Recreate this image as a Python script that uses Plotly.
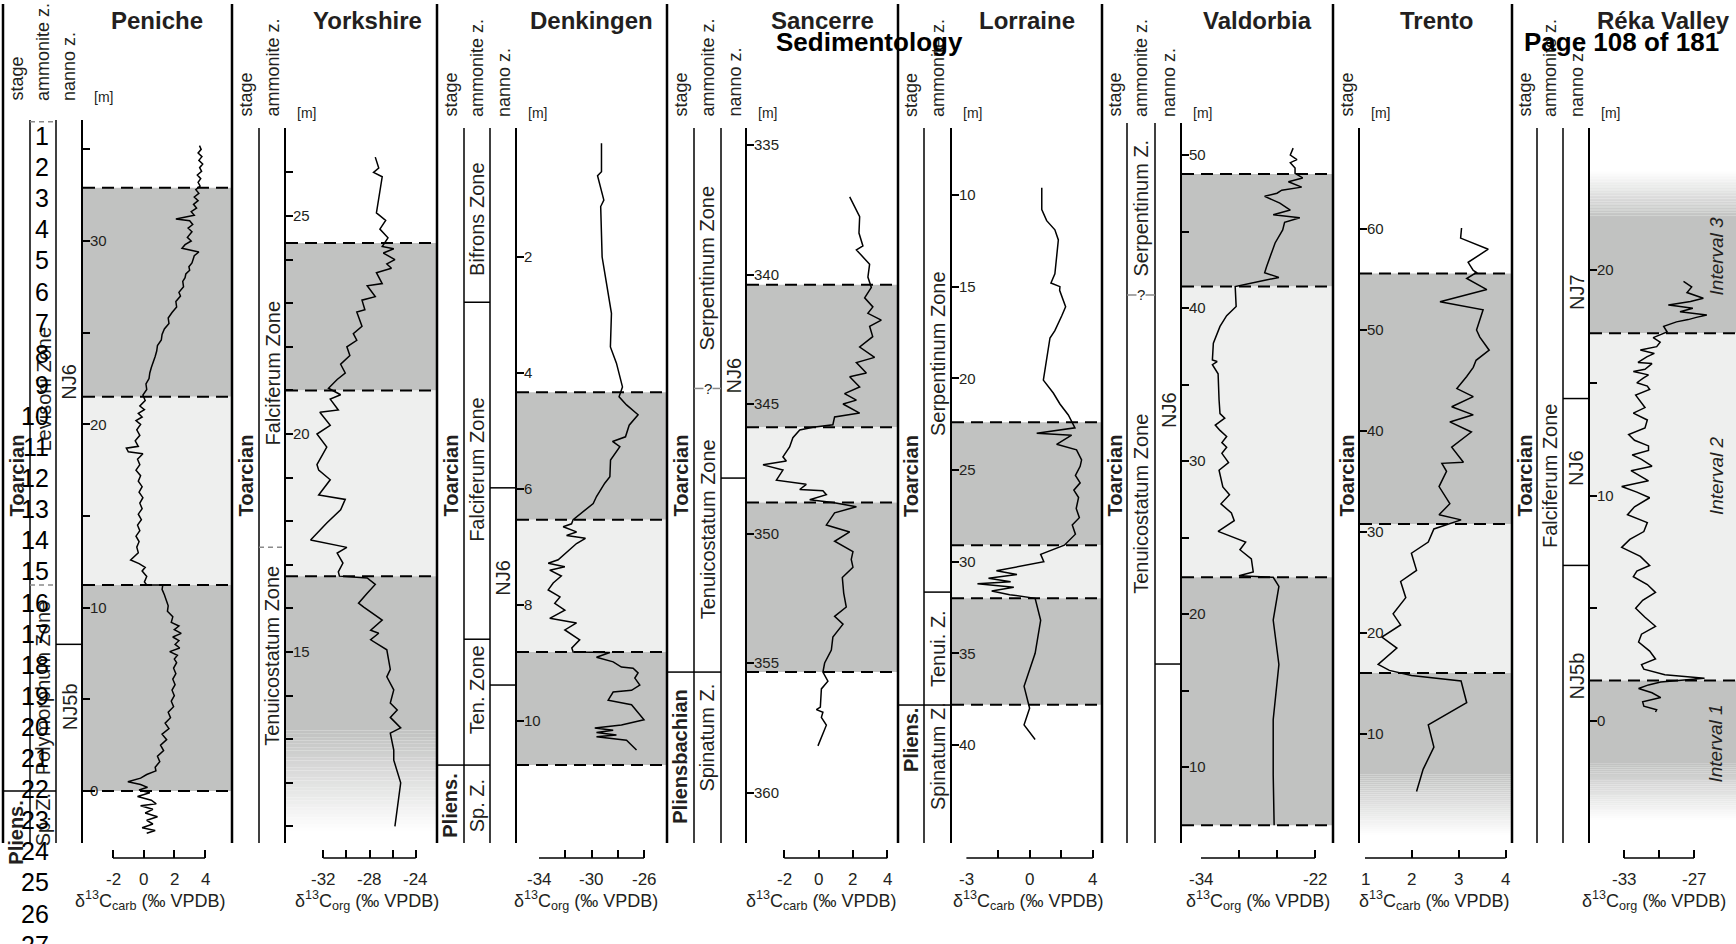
import plotly.graph_objects as go

W, H = 1736, 944
FONT = "Liberation Sans, Arial, Helvetica, sans-serif"
INK = "#231f20"
DARK = (193, 194, 193)
LIGHT = (238, 239, 238)
WHITE = (255, 255, 255)
BOTTOM = 843
XAXIS_Y = 858

# ---------------- data (depth [m], d13C) ----------------
peniche_depth = [35.2, 35.0, 34.8, 34.6, 34.4, 34.2, 34.0, 33.8, 33.6, 33.4, 33.2, 33.0, 32.8, 32.6, 32.4, 32.2, 32.0, 31.8, 31.6, 31.4,
                 31.2, 31.1, 30.9, 30.7, 30.5, 30.2, 30.0, 29.8, 29.6, 29.4, 29.2, 29.0, 28.8, 28.6, 28.4, 28.2, 28.0, 27.8, 27.5, 27.2,
                 27.0, 26.7, 26.4, 26.1, 25.8, 25.5, 25.2, 24.9, 24.6, 24.3, 24.0, 23.7, 23.4, 23.1, 22.8, 22.5, 22.2, 21.9, 21.6, 21.3,
                 21.0, 20.8, 20.6, 20.4, 20.2, 20.0, 19.7, 19.4, 19.1, 18.8, 18.7, 18.5, 18.4, 18.1, 17.8, 17.5, 17.2, 16.9, 16.6, 16.3,
                 16.0, 15.7, 15.4, 15.1, 14.8, 14.5, 14.2, 13.9, 13.6, 13.3, 13.0, 12.8, 12.6, 12.4, 12.2, 12.0, 11.7, 11.4, 11.24, 11.24,
                 11.0, 10.7, 10.4, 10.1, 9.8, 9.5, 9.2, 9.0, 8.8, 8.6, 8.4, 8.2, 8.0, 7.8, 7.6, 7.4, 7.2, 7.0, 6.7, 6.4,
                 6.1, 5.8, 5.5, 5.2, 4.9, 4.6, 4.3, 4.0, 3.7, 3.4, 3.1, 2.8, 2.5, 2.2, 1.9, 1.6, 1.3, 1.1, 0.9, 0.7,
                 0.5, 0.35, 0.2, 0.05, -0.1, -0.3, -0.5, -0.7, -0.8, -1.0, -1.2, -1.4, -1.6, -1.8, -2.0, -2.15, -2.3]
peniche_d13c = [3.64, 3.75, 3.55, 3.8, 3.6, 3.85, 3.65, 3.78, 3.5, 3.72, 3.55, 3.68, 3.4, 3.6, 3.3, 3.55, 3.25, 3.45, 3.1, 3.3,
                2.1, 3.0, 3.2, 2.9, 3.15, 2.85, 3.1, 2.7, 2.5, 3.6, 3.3, 3.25, 3.15, 2.95, 3.0, 2.75, 2.7, 2.55, 2.6, 2.3,
                2.4, 2.1, 2.15, 1.85, 1.6, 1.65, 1.35, 1.2, 1.15, 0.9, 0.85, 0.75, 0.6, 0.5, 0.4, 0.35, 0.15, 0.2, -0.05, 0.1,
                -0.25, 0.05, -0.35, -0.1, -0.5, -0.2, -0.45, -0.25, -0.55, -0.35, -1.13, -1.0, -0.05, -0.4, -0.25, -0.5, -0.2, -0.35, -0.1, -0.3,
                -0.05, -0.25, -0.1, -0.35, -0.15, -0.4, -0.25, -0.5, -0.3, -0.45, -0.35, -0.6, -0.85, -0.3, 0.1, -0.1, 0.2, 0.05, 0.2, 1.25,
                1.2, 1.35, 1.45, 1.6, 1.55, 1.9, 1.8, 2.3, 2.0, 2.45, 1.9, 2.3, 2.05, 2.35, 1.7, 2.2, 2.0, 2.15, 1.95, 2.1,
                1.9, 2.05, 1.85, 2.0, 1.8, 1.95, 1.6, 1.75, 1.4, 1.65, 1.2, 1.5, 1.1, 1.3, 0.9, 1.05, 0.75, 0.8, 0.2, -0.2,
                -1.03, -0.2, 0.25, -0.3, 0.4, -0.4, 0.5, 0.82, -0.2, 0.6, 0.1, 0.9, 0.2, 0.6, -0.1, 0.75, 0.2]

yorkshire_depth = [26.35, 26.1, 26.0, 25.9, 25.07, 24.9, 24.7, 24.5, 24.3, 24.25, 24.15, 24.0, 23.9, 23.8, 23.7, 23.45, 23.4, 23.15, 23.07, 22.85,
                   22.8, 22.47, 22.3, 22.15, 22.0, 21.8, 21.6, 21.4, 21.25, 21.05, 20.9, 20.8, 20.55, 20.5, 20.2, 20.0, 19.7, 19.3, 19.17, 18.95,
                   18.6, 18.5, 18.26, 17.96, 17.57, 17.4, 17.27, 17.04, 16.84, 16.74, 16.7, 16.55, 16.35, 16.12, 16.03, 15.73, 15.5, 15.43, 15.28, 15.05,
                   14.6, 14.43, 14.13, 13.83, 13.67, 13.5, 13.26, 13.14, 12.75, 12.52, 12.0, 11.0]
yorkshire_d13c = [-27.5, -27.2, -27.65, -26.9, -27.4, -26.6, -27.1, -26.4, -26.9, -25.9, -26.8, -25.8, -26.5, -26.1, -27.4, -26.9, -28.2, -27.5, -28.65, -28.4,
                  -29.1, -28.65, -29.4, -29.1, -29.96, -29.7, -30.5, -30.1, -30.8, -31.55, -30.5, -31.4, -30.7, -32.3, -31.4, -32.55, -31.7, -32.55, -32.4, -31.4,
                  -32.4, -30.1, -30.5, -31.7, -33.1, -29.96, -30.8, -30.3, -30.7, -30.6, -28.2, -27.5, -28.2, -28.95, -28.5, -26.9, -27.9, -27.2, -27.9, -26.5,
                  -26.2, -26.5, -25.9, -26.2, -25.6, -26.2, -25.3, -26.2, -25.9, -25.9, -25.3, -25.8]

denkingen_depth = [0.04, 0.53, 0.6, 1.02, 1.13, 2.0, 2.45, 2.97, 3.55, 3.83, 4.24, 4.41, 4.55, 4.72, 4.9, 5.1, 5.18, 5.27, 5.5, 5.79,
                   5.9, 6.13, 6.25, 6.53, 6.6, 6.65, 6.74, 6.8, 6.85, 6.94, 7.22, 7.28, 7.34, 7.4, 7.5, 7.62, 7.74, 7.86, 7.97, 8.09,
                   8.23, 8.31, 8.43, 8.6, 8.74, 8.81, 8.82, 8.9, 8.98, 9.07, 9.09, 9.17, 9.26, 9.38, 9.47, 9.5, 9.64, 9.72, 9.98, 10.07,
                   10.12, 10.16, 10.2, 10.24, 10.27, 10.33, 10.5]
denkingen_d13c = [-29.24, -29.24, -29.54, -29.06, -29.3, -29.19, -28.86, -28.48, -28.56, -28.1, -27.64, -27.9, -27.33, -26.45, -27.13, -27.41, -28.4, -27.84, -28.55, -28.6,
                  -28.99, -29.62, -29.87, -31.4, -31.52, -32.16, -31.14, -31.9, -30.46, -31.14, -32.54, -33.3, -32.03, -33.18, -32.3, -32.92, -33.3, -32.4, -32.8, -32.03,
                  -33.18, -31.14, -32.03, -30.9, -31.5, -31.4, -28.6, -29.62, -28.35, -27.72, -26.83, -26.45, -26.7, -26.32, -26.95, -28.35, -28.73, -26.95, -26.0, -27.72,
                  -29.75, -28.35, -29.62, -28.1, -29.62, -27.33, -26.57]

sancerre_depth = [337.0, 337.77, 338.4, 338.9, 339.05, 339.6, 340.1, 340.5, 340.9, 341.25, 341.5, 341.76, 342.0, 342.4, 342.8, 343.2, 343.4, 343.8, 343.95, 344.34,
                  344.6, 344.85, 345.0, 345.35, 345.5, 345.8, 345.9, 346.0, 346.3, 346.66, 347.04, 347.2, 347.35, 347.55, 347.94, 348.05, 348.1, 348.3, 348.35, 348.5,
                  348.7, 348.8, 348.97, 349.2, 349.67, 349.94, 350.3, 350.7, 351.0, 351.3, 351.7, 352.3, 352.84, 353.2, 353.5, 354.0, 354.5, 355.0, 355.35, 355.7,
                  356.0, 356.7, 356.8, 356.9, 357.1, 357.4, 358.2]
sancerre_d13c = [1.81, 2.39, 2.35, 2.58, 2.2, 2.97, 2.87, 3.07, 2.68, 3.16, 2.87, 3.65, 2.97, 3.15, 2.39, 3.26, 2.2, 2.78, 1.81, 2.39,
                 1.51, 2.2, 1.42, 2.39, 0.93, 0.83, -0.33, -1.1, -1.5, -1.69, -2.08, -1.88, -3.24, -2.08, -2.46, -1.3, -0.72, -1.1, 0.25, 0.45,
                 -0.52, 0.83, 2.2, 0.93, 0.45, 1.81, 0.93, 2.0, 1.9, 2.0, 1.38, 1.46, 1.61, 0.93, 1.42, 0.83, 0.74, 0.35, 0.25, 0.54,
                 0.16, 0.1, -0.13, 0.25, 0.16, 0.45, -0.04]

lorraine_depth = [9.6, 10.8, 11.4, 11.9, 12.45, 13.5, 14.3, 14.8, 15.0, 15.2, 16.1, 16.6, 17.4, 17.8, 19.0, 20.1, 20.8, 21.4, 22.0, 22.7,
                  23.0, 23.1, 23.6, 23.9, 24.45, 24.8, 25.3, 25.7, 26.1, 26.5, 27.1, 27.6, 28.0, 28.5, 29.1, 29.6, 30.0, 30.5, 30.7, 30.9,
                  31.1, 31.2, 31.4, 31.6, 31.8, 32.0, 33.2, 35.0, 36.8, 38.0, 38.9, 39.7]
lorraine_d13c = [0.77, 0.77, 1.08, 1.6, 1.82, 1.71, 1.6, 1.35, 1.92, 1.9, 2.28, 2.03, 1.6, 1.29, 1.08, 0.87, 1.5, 1.92, 2.45, 2.87,
                 0.45, 2.66, 1.71, 2.97, 3.29, 3.2, 2.9, 3.2, 2.8, 3.1, 2.95, 3.15, 2.7, 2.9, 2.2, 0.7, 0.9, -2.1, -0.8, -2.6,
                 -1.2, -3.3, -1.0, -2.4, -1.26, 0.35, 0.7, 0.35, -0.35, 0.0, -0.35, 0.35]

valdorbia_depth = [50.45, 50.0, 49.7, 49.5, 49.15, 48.8, 48.5, 48.25, 47.9, 47.7, 47.5, 47.3, 46.85, 46.4, 46.1, 45.9, 45.6, 45.1, 44.25, 43.6,
                   42.7, 42.3, 42.0, 41.8, 41.4, 40.1, 39.5, 38.8, 37.7, 36.6, 36.5, 36.3, 35.7, 34.0, 33.1, 32.8, 32.35, 32.0, 31.6, 31.2,
                   30.9, 30.5, 29.9, 29.4, 28.3, 27.8, 27.2, 26.6, 26.1, 25.4, 25.0, 24.7, 24.2, 23.6, 22.75, 22.5, 22.4, 21.8, 19.6, 16.7,
                   13.1, 9.5, 6.2]
valdorbia_d13c = [-24.3, -24.6, -23.9, -24.6, -24.1, -24.1, -23.3, -24.8, -23.4, -25.5, -26.0, -27.3, -25.7, -24.6, -26.4, -23.6, -25.2, -25.4, -26.2, -26.6,
                  -27.1, -27.3, -25.8, -27.4, -30.4, -30.3, -31.3, -32.0, -32.7, -32.8, -32.3, -32.8, -32.2, -32.1, -32.0, -31.5, -32.5, -32.0, -31.3, -31.8,
                  -31.3, -31.8, -31.1, -32.1, -31.7, -31.0, -31.9, -30.8, -30.5, -32.2, -30.6, -29.3, -29.9, -28.7, -28.5, -30.0, -26.4, -25.8, -26.4, -25.8,
                  -26.4, -26.4, -26.3]

trento_depth = [60.1, 59.1, 58.0, 56.7, 55.9, 55.7, 55.1, 54.0, 52.8, 52.0, 50.0, 49.3, 48.0, 47.0, 46.3, 45.4, 44.2, 43.4, 42.4, 41.6,
                40.9, 39.9, 38.4, 36.9, 36.8, 36.0, 34.5, 32.8, 31.7, 31.2, 30.3, 29.0, 27.9, 26.2, 25.1, 23.5, 21.9, 20.8, 19.6, 18.5,
                16.9, 16.3, 15.8, 15.25, 13.1, 10.9, 8.7, 6.5, 4.3]
trento_d13c = [3.06, 3.04, 3.63, 3.2, 3.31, 3.38, 3.17, 3.6, 2.6, 3.52, 3.38, 3.45, 3.65, 3.37, 3.31, 3.17, 2.96, 3.31, 2.85, 3.31,
               2.81, 3.27, 2.85, 3.1, 2.64, 2.74, 2.58, 2.81, 2.58, 3.05, 2.47, 2.35, 1.99, 2.1, 1.76, 1.87, 1.6, 1.76, 1.36, 1.68,
               1.28, 1.52, 1.99, 3.05, 3.17, 2.35, 2.47, 2.24, 2.1]

reka_depth = [19.5, 19.25, 19.0, 18.75, 18.6, 18.45, 18.4, 18.3, 18.15, 18.0, 17.9, 17.8, 17.7, 17.5, 17.25,
              17.0, 16.8, 16.6, 16.45, 16.3, 16.15, 15.9, 15.85, 15.6, 15.5, 15.35, 15.2, 15.0, 14.85, 14.7, 14.45, 14.2, 13.9, 13.65, 13.35,
              13.0, 12.7, 12.45, 12.2, 12.0, 11.8, 11.6, 11.3, 11.1, 10.9, 10.65, 10.4, 10.15, 9.9, 9.5, 9.15, 8.8, 8.4, 8.05, 7.7,
              7.3, 6.9, 6.65, 6.4, 6.05, 5.7, 5.35, 5.0, 4.6, 4.2, 3.85, 3.5, 3.1, 2.75, 2.5, 2.3, 2.05, 1.9, 1.73, 1.6,
              1.44, 1.25, 1.04, 0.85, 0.66, 0.5, 0.4]
reka_d13c = [-27.9, -27.2, -27.6, -26.2, -27.3, -29.2, -28.5, -27.1, -28.2, -25.9, -26.8, -27.5, -28.5, -29.6, -29.3,
             -30.5, -29.9, -30.2, -31.6, -30.4, -31.05, -31.8, -30.6, -31.2, -32.2, -30.9, -31.35, -31.9, -31.0, -30.8, -32.0, -31.6, -31.2, -32.2, -31.0,
             -31.2, -32.6, -32.1, -30.9, -30.9, -32.3, -31.5, -30.6, -32.4, -31.75, -30.9, -33.2, -31.9, -30.8, -32.1, -32.7, -31.0, -31.3, -32.5, -33.2,
             -31.6, -30.8, -31.9, -32.2, -31.0, -30.3, -31.4, -32.0, -31.2, -30.3, -31.5, -31.75, -30.8, -30.3, -31.5, -31.3, -29.5, -26.1, -29.85, -30.9,
             -31.75, -30.6, -29.85, -31.4, -31.3, -30.2, -30.3]

# ---------------- section layout ----------------
sections = [
    dict(name="Peniche", tx=157, frame=(3, 232), cols=[3, 30, 56, 83], top=120, hdr_y=103,
         xcal=(-2, 113, 4, 205), ycal=(0, 791, 30, 241),
         xticks=[-2, 0, 2, 4], xlabels=[(-2, "-2"), (0, "0"), (2, "2"), (4, "4")],
         ymajor=[0, 10, 20, 30], yminor=[5, 15, 25, 35],
         xlab="carb", lx=150, depth=peniche_depth, val=peniche_d13c,
         bands=[(32.9, 21.5, DARK, DARK), (21.5, 11.24, LIGHT, LIGHT), (11.24, 0.0, DARK, DARK)],
         dashed=[32.9, 21.5, 11.24, 0.0],
         columns=[
             dict(head="stage", zones=[("Toarcian", None, True), ("Pliens.", -2.3, True)], bounds=[(0.0, "solid")]),
             dict(head="ammonite z.", zones=[("Levisoni Zone", 21.9, False), ("Polymorphum Zone", 5.6, False), ("Sp. Z.", -1.6, False)],
                  bounds=[(36.5, "grey"), (11.24, "grey"), (0.0, "solid")]),
             dict(head="nanno z.", zones=[("NJ6", 22.3, False), ("NJ5b", 4.6, False)], bounds=[(8.0, "solid")]),
         ]),
    dict(name="Yorkshire", tx=367, frame=(232, 437), cols=[232, 259, 286], top=128, hdr_y=119,
         xcal=(-32, 323.3, -24, 415.7), ycal=(15, 652, 25, 216),
         xticks=[-32, -30, -28, -26, -24], xlabels=[(-32, "-32"), (-28, "-28"), (-24, "-24")],
         ymajor=[15, 20, 25], yminor=[11, 12, 13, 14, 16, 17, 18, 19, 21, 22, 23, 24, 26],
         xlab="org", lx=367, depth=yorkshire_depth, val=yorkshire_d13c,
         bands=[(24.38, 21.0, DARK, DARK), (21.0, 16.74, LIGHT, LIGHT), (16.74, 13.2, DARK, DARK), (13.2, 10.9, DARK, WHITE)],
         dashed=[24.38, 21.0, 16.74],
         columns=[
             dict(head="stage", zones=[("Toarcian", None, True)], bounds=[]),
             dict(head="ammonite z.", zones=[("Falciferum Zone", 21.4, False), ("Tenuicostatum Zone", 14.9, False)],
                  bounds=[(17.4, "grey")]),
         ]),
    dict(name="Denkingen", tx=591, frame=(437, 667), cols=[437, 464, 490, 517], top=128, hdr_y=119,
         xcal=(-34, 539, -26, 644), ycal=(2, 257, 10, 721),
         xticks=[-34, -32, -30, -28, -26], xlabels=[(-34, "-34"), (-30, "-30"), (-26, "-26")],
         ymajor=[2, 4, 6, 8, 10], yminor=[],
         xlab="org", lx=586, depth=denkingen_depth, val=denkingen_d13c,
         bands=[(4.33, 6.53, DARK, DARK), (6.53, 8.81, LIGHT, LIGHT), (8.81, 10.76, DARK, DARK)],
         dashed=[4.33, 6.53, 8.81, 10.76],
         columns=[
             dict(head="stage", zones=[("Toarcian", None, True), ("Pliens.", 11.47, True)], bounds=[(10.76, "solid")]),
             dict(head="ammonite z.", zones=[("Bifrons Zone", 1.36, False), ("Falciferum Zone", 5.67, False),
                                              ("Ten. Zone", 9.47, False), ("Sp. Z.", 11.47, False)],
                  bounds=[(2.78, "solid"), (8.59, "solid"), (10.76, "solid")]),
             dict(head="nanno z.", zones=[("NJ6", 7.52, False)], bounds=[(5.98, "solid"), (9.38, "solid")]),
         ]),
    dict(name="Sancerre", tx=822, frame=(667, 898), cols=[667, 694, 721, 747], top=128, hdr_y=119,
         xcal=(-2, 784.3, 4, 887.3), ycal=(335, 145, 360, 792.5),
         xticks=[-2, 0, 2, 4], xlabels=[(-2, "-2"), (0, "0"), (2, "2"), (4, "4")],
         ymajor=[335, 340, 345, 350, 355, 360], yminor=[],
         xlab="carb", lx=821, depth=sancerre_depth, val=sancerre_d13c,
         bands=[(340.4, 345.9, DARK, DARK), (345.9, 348.8, LIGHT, LIGHT), (348.8, 355.35, DARK, DARK)],
         dashed=[340.4, 345.9, 348.8, 355.35],
         columns=[
             dict(head="stage", zones=[("Toarcian", None, True), ("Pliensbachian", 358.6, True)], bounds=[(355.35, "solid")]),
             dict(head="ammonite z.", zones=[("Serpentinum Zone", 339.75, False), ("Tenuicostatum Zone", 349.86, False),
                                              ("Spinatum Z.", 357.9, False)],
                  bounds=[(344.4, "q"), (355.35, "solid")]),
             dict(head="nanno z.", zones=[("NJ6", 343.9, False)], bounds=[(347.86, "solid")]),
         ]),
    dict(name="Lorraine", tx=1027, frame=(898, 1102), cols=[898, 924, 952], top=128, hdr_y=119,
         xcal=(0, 1029.6, 4, 1092.8), ycal=(10, 195, 40, 745),
         xticks=[-4, -2, 0, 2, 4], xlabels=[(-4, "-3"), (0, "0"), (4, "4")],
         ymajor=[10, 15, 20, 25, 30, 35, 40], yminor=[],
         xlab="carb", lx=1028, depth=lorraine_depth, val=lorraine_d13c,
         bands=[(22.4, 29.1, DARK, DARK), (29.1, 32.0, LIGHT, LIGHT), (32.0, 37.8, DARK, DARK)],
         dashed=[22.4, 29.1, 32.0, 37.8],
         columns=[
             dict(head="stage", zones=[("Toarcian", None, True), ("Pliens.", 39.73, True)], bounds=[(37.82, "solid")]),
             dict(head="ammonite z.", zones=[("Serpentinum Zone", 18.62, False), ("Tenui. Z.", 34.71, False),
                                              ("Spinatum Z.", 40.6, False)],
                  bounds=[(31.66, "solid"), (37.82, "solid")]),
         ]),
    dict(name="Valdorbia", tx=1257, frame=(1102, 1333), cols=[1102, 1127, 1155, 1182], top=123, hdr_y=119,
         xcal=(-34, 1201, -22, 1315), ycal=(50, 155, 10, 767),
         xticks=[-34, -30, -26, -22], xlabels=[(-34, "-34"), (-22, "-22")],
         ymajor=[10, 20, 30, 40, 50], yminor=[15, 25, 35, 45],
         xlab="org", lx=1258, depth=valdorbia_depth, val=valdorbia_d13c,
         bands=[(48.75, 41.4, DARK, DARK), (41.4, 22.4, LIGHT, LIGHT), (22.4, 6.2, DARK, DARK)],
         dashed=[48.75, 41.4, 22.4, 6.2],
         columns=[
             dict(head="stage", zones=[("Toarcian", None, True)], bounds=[]),
             dict(head="ammonite z.", zones=[("Serpentinum Z.", 46.5, False), ("Tenuicostatum Zone", 27.2, False)],
                  bounds=[(40.85, "q")]),
             dict(head="nanno z.", zones=[("NJ6", 33.3, False)], bounds=[(16.73, "solid")]),
         ]),
    dict(name="Trento", tx=1436, frame=(1333, 1512), cols=[1333, 1360], top=128, hdr_y=119,
         xcal=(1, 1365, 4, 1505.6), ycal=(60, 229, 10, 734),
         xticks=[1, 2, 3, 4], xlabels=[(1, "1"), (2, "2"), (3, "3"), (4, "4")],
         ymajor=[10, 20, 30, 40, 50, 60], yminor=[],
         xlab="carb", lx=1434, depth=trento_depth, val=trento_d13c,
         bands=[(55.6, 30.8, DARK, DARK), (30.8, 16.05, LIGHT, LIGHT), (16.05, 6.0, DARK, DARK), (6.0, 0.0, DARK, WHITE)],
         dashed=[55.6, 30.8, 16.05],
         columns=[
             dict(head="stage", zones=[("Toarcian", None, True)], bounds=[]),
         ]),
    dict(name="Réka Valley", tx=1663, frame=(1512, 1736), cols=[1512, 1537, 1563, 1590], top=128, hdr_y=119,
         xcal=(-33, 1624, -27, 1694), ycal=(0, 721, 20, 270),
         xticks=[-33, -30, -27], xlabels=[(-33, "-33"), (-27, "-27")],
         ymajor=[0, 10, 20], yminor=[5, 15],
         xlab="org", lx=1654, depth=reka_depth, val=reka_d13c,
         bands=[(24.4, 22.35, WHITE, DARK), (22.35, 17.2, DARK, DARK), (17.2, 1.8, LIGHT, LIGHT),
                (1.8, -1.9, DARK, DARK), (-1.9, -4.4, DARK, WHITE)],
         dashed=[17.2, 1.8],
         columns=[
             dict(head="stage", zones=[("Toarcian", None, True)], bounds=[]),
             dict(head="ammonite z.", zones=[("Falciferum Zone", None, False)], bounds=[]),
             dict(head="nanno z.", zones=[("NJ7", 19.0, False), ("NJ6", 11.2, False), ("NJ5b", 2.0, False)],
                  bounds=[(14.3, "solid"), (6.9, "solid")]),
         ]),
]
frames_px = [3, 232, 437, 667, 898, 1102, 1333, 1512]
line_numbers = [str(n) for n in range(1, 28)]
intervals = [("Interval 3", 20.6), ("Interval 2", 10.86), ("Interval 1", -1.0)]
TOARCIAN_PX = 476


def rgb(c):
    return "rgb(%d,%d,%d)" % tuple(int(round(v)) for v in c)


def pxx(x):
    return x / W


def pyy(y):
    return 1 - y / H


fig = go.Figure()
shapes, annos = [], []
lay = {}
tick_style = dict(ticks="inside", tickwidth=1.5, tickcolor="black")

for i, s in enumerate(sections, start=1):
    xa = "x" if i == 1 else "x%d" % i
    ya = "y" if i == 1 else "y%d" % i
    xk = "xaxis" if i == 1 else "xaxis%d" % i
    yk = "yaxis" if i == 1 else "yaxis%d" % i
    axis_px = s["cols"][-1]
    right_px = s["frame"][1]
    v0, p0, v1, p1 = s["xcal"]
    kx = (v1 - v0) / (p1 - p0)
    xr = [v0 + (axis_px - p0) * kx, v0 + (right_px - p0) * kx]
    d0, q0, d1, q1 = s["ycal"]
    ky = (d1 - d0) / (q1 - q0)
    yr = [d0 + (BOTTOM - q0) * ky, d0 + (s["top"] - q0) * ky]

    lay[xk] = dict(domain=[axis_px / W, right_px / W], range=xr, anchor="free", position=pyy(XAXIS_Y),
                   tickmode="array", tickvals=s["xticks"], ticklen=8, showticklabels=False,
                   showline=False, showgrid=False, zeroline=False, fixedrange=True, **tick_style)
    ydef = dict(domain=[pyy(BOTTOM), pyy(s["top"])], range=yr, anchor=xa,
                tickmode="array", tickvals=s["ymajor"], ticklen=7, ticklabelposition="inside",
                showline=True, linewidth=2, linecolor="black", showgrid=False, zeroline=False,
                tickfont=dict(family=FONT, size=15, color=INK), fixedrange=True, **tick_style)
    if s["yminor"]:
        ydef["minor"] = dict(tickmode="array", tickvals=s["yminor"], ticklen=7, showgrid=False, **tick_style)
    lay[yk] = ydef

    # bands
    for (a, b, ca, cb) in s["bands"]:
        if ca == cb:
            shapes.append(dict(type="rect", xref=xa + " domain", x0=0, x1=1, yref=ya, y0=a, y1=b,
                               fillcolor=rgb(ca), line_width=0, layer="below"))
        else:
            n = 30
            for k in range(n):
                t0 = a + (b - a) * k / n
                t1 = a + (b - a) * (k + 1) / n
                f = (k + 0.5) / n
                col = tuple(ca[j] + (cb[j] - ca[j]) * f for j in range(3))
                shapes.append(dict(type="rect", xref=xa + " domain", x0=0, x1=1, yref=ya, y0=t0, y1=t1,
                                   fillcolor=rgb(col), line_width=0, layer="below"))
    for dval in s["dashed"]:
        shapes.append(dict(type="line", xref=xa + " domain", x0=0, x1=1, yref=ya, y0=dval, y1=dval,
                           line=dict(color="black", width=2, dash="12px,7px")))

    # x axis line between end ticks, and its labels
    shapes.append(dict(type="line", xref=xa, x0=s["xticks"][0], x1=s["xticks"][-1], yref="paper",
                       y0=pyy(XAXIS_Y), y1=pyy(XAXIS_Y), line=dict(color="black", width=1.5)))
    for (tv, tt) in s["xlabels"]:
        annos.append(dict(text=tt, xref=xa, yref="paper", x=tv, y=pyy(879), xanchor="center", yanchor="middle",
                          showarrow=False, font=dict(family=FONT, size=17, color=INK)))

    # data trace
    fig.add_trace(go.Scatter(x=s["val"], y=s["depth"], xaxis=xa, yaxis=ya, mode="lines",
                             line=dict(color="black", width=1.5), showlegend=False, hoverinfo="skip"))

    # title
    annos.append(dict(text="<b>%s</b>" % s["name"], xref="paper", yref="paper", x=pxx(s["tx"]), y=pyy(21),
                      xanchor="center", yanchor="middle", showarrow=False,
                      font=dict(family=FONT, size=24, color=INK)))
    # [m]
    annos.append(dict(text="[m]", xref="paper", yref="paper", x=pxx(axis_px + 9), y=pyy(s["hdr_y"] - 6),
                      xanchor="left", yanchor="middle", showarrow=False,
                      font=dict(family=FONT, size=14, color=INK)))
    # x label
    annos.append(dict(text="δ<sup>13</sup>C<sub>%s</sub> (‰ VPDB)" % s["xlab"], xref="paper", yref="paper",
                      x=pxx(s["lx"]), y=pyy(900), xanchor="center", yanchor="middle", showarrow=False,
                      font=dict(family=FONT, size=18, color=INK)))

    # columns
    cols = s["cols"]
    for c, col in enumerate(s["columns"]):
        cx0, cx1 = cols[c], cols[c + 1]
        cxm = (cx0 + cx1) / 2
        if c + 1 < len(cols) - 1:
            shapes.append(dict(type="line", xref="paper", yref="paper", x0=pxx(cx1), x1=pxx(cx1),
                               y0=pyy(s["top"]), y1=pyy(BOTTOM), line=dict(color="black", width=1.5)))
        annos.append(dict(text=col["head"], xref="paper", yref="paper", x=pxx(cxm), y=pyy(s["hdr_y"]),
                          xanchor="center", yanchor="bottom", textangle=-90, showarrow=False,
                          font=dict(family=FONT, size=18, color=INK)))
        for (dval, style) in col["bounds"]:
            if style == "solid":
                ln = dict(color="black", width=1.5)
            elif style == "grey":
                ln = dict(color="#8a8a8a", width=1.5, dash="5px,4px")
            else:
                ln = dict(color="#8a8a8a", width=1.5)
            shapes.append(dict(type="line", xref="paper", yref=ya, x0=pxx(cx0), x1=pxx(cx1), y0=dval, y1=dval,
                               line=ln))
            if style == "q":
                annos.append(dict(text="?", xref="paper", yref=ya, x=pxx(cxm), y=dval, xanchor="center",
                                  yanchor="middle", showarrow=False, bgcolor="white", borderpad=0,
                                  font=dict(family=FONT, size=15, color=INK)))
        for (label, center, bold) in col["zones"]:
            txt = "<b>%s</b>" % label if bold else label
            if center is None:
                yy, yref = pyy(TOARCIAN_PX), "paper"
            else:
                yy, yref = center, ya
            annos.append(dict(text=txt, xref="paper", yref=yref, x=pxx(cxm), y=yy, xanchor="center",
                              yanchor="middle", textangle=-90, showarrow=False,
                              font=dict(family=FONT, size=20, color=INK)))

# frame lines
for fx in frames_px:
    shapes.append(dict(type="line", xref="paper", yref="paper", x0=pxx(fx), x1=pxx(fx), y0=pyy(4), y1=pyy(BOTTOM),
                       line=dict(color="black", width=2.5)))

# Interval labels (Réka Valley)
for (label, dval) in intervals:
    annos.append(dict(text="<i>%s</i>" % label, xref="paper", yref="y8", x=pxx(1716), y=dval, xanchor="center",
                      yanchor="middle", textangle=-90, showarrow=False,
                      font=dict(family=FONT, size=19, color=INK)))

# page header overlay
annos.append(dict(text="<b>Sedimentology</b>", xref="paper", yref="paper", x=pxx(869), y=pyy(42),
                  xanchor="center", yanchor="middle", showarrow=False, font=dict(family=FONT, size=26, color="black")))
annos.append(dict(text="<b>Page 108 of 181</b>", xref="paper", yref="paper", x=pxx(1522), y=pyy(42),
                  xanchor="left", yanchor="middle", showarrow=False, font=dict(family=FONT, size=26, color="black")))

# line numbers overlay
for k, t in enumerate(line_numbers):
    annos.append(dict(text=t, xref="paper", yref="paper", x=pxx(51), y=pyy(136 + 31.1 * k), xanchor="right",
                      yanchor="middle", showarrow=False, font=dict(family=FONT, size=25, color="black")))

fig.update_layout(width=W, height=H, margin=dict(l=0, r=0, t=0, b=0), paper_bgcolor="white",
                  plot_bgcolor="rgba(0,0,0,0)", showlegend=False, shapes=shapes, annotations=annos, **lay)
fig.write_html("out.html", config=dict(displayModeBar=False))
